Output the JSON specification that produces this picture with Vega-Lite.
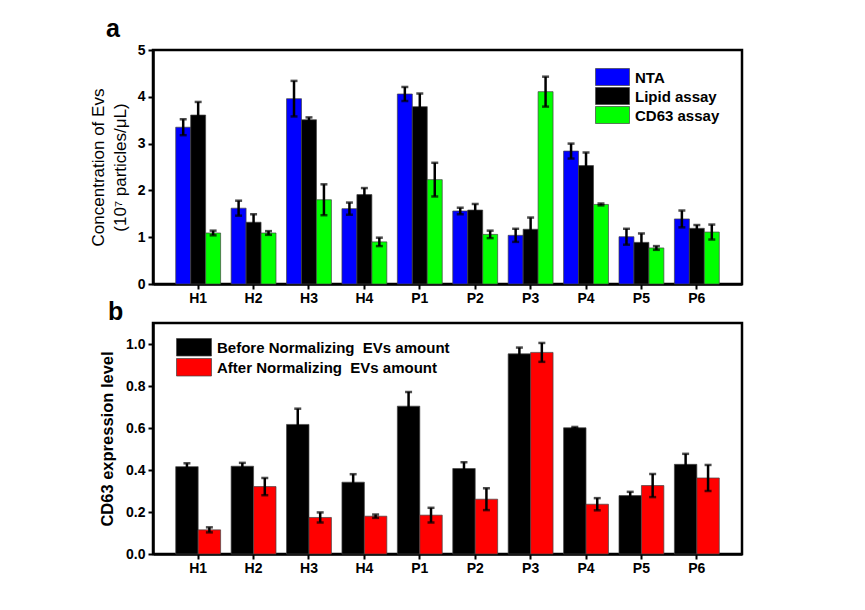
{
  "$schema": "https://vega.github.io/schema/vega-lite/v6.json",
  "background": "white",
  "padding": {"left": 87, "top": 15, "right": 5, "bottom": 5},
  "bounds": "flush",
  "spacing": 39,
  "resolve": {"scale": {"color": "independent", "y": "independent", "x": "independent", "xOffset": "independent"}},
  "config": {
    "view": {"stroke": "black", "strokeWidth": 2.5},
    "font": "Liberation Sans",
    "axis": {
      "domainColor": "black", "domainWidth": 2.5,
      "tickColor": "black", "tickWidth": 2,
      "labelFont": "Liberation Sans", "labelFontWeight": "bold", "labelFontSize": 14, "labelColor": "black",
      "titleFont": "Liberation Sans", "titleColor": "black", "titleFontSize": 16,
      "grid": false
    },
    "legend": {"labelColor": "black", "labelLimit": 0}
  },
  "datasets": {
    "a": [
      {"sample": "H1", "method": "NTA", "value": 3.35, "lo": 3.18, "hi": 3.52},
      {"sample": "H1", "method": "Lipid assay", "value": 3.61, "lo": 3.33, "hi": 3.89},
      {"sample": "H1", "method": "CD63 assay", "value": 1.09, "lo": 1.04, "hi": 1.14},
      {"sample": "H2", "method": "NTA", "value": 1.62, "lo": 1.46, "hi": 1.78},
      {"sample": "H2", "method": "Lipid assay", "value": 1.32, "lo": 1.15, "hi": 1.49},
      {"sample": "H2", "method": "CD63 assay", "value": 1.09, "lo": 1.05, "hi": 1.13},
      {"sample": "H3", "method": "NTA", "value": 3.96, "lo": 3.58, "hi": 4.34},
      {"sample": "H3", "method": "Lipid assay", "value": 3.51, "lo": 3.46, "hi": 3.56},
      {"sample": "H3", "method": "CD63 assay", "value": 1.80, "lo": 1.47, "hi": 2.13},
      {"sample": "H4", "method": "NTA", "value": 1.61, "lo": 1.48, "hi": 1.74},
      {"sample": "H4", "method": "Lipid assay", "value": 1.91, "lo": 1.77, "hi": 2.05},
      {"sample": "H4", "method": "CD63 assay", "value": 0.90, "lo": 0.81, "hi": 0.99},
      {"sample": "P1", "method": "NTA", "value": 4.06, "lo": 3.91, "hi": 4.21},
      {"sample": "P1", "method": "Lipid assay", "value": 3.79, "lo": 3.51, "hi": 4.07},
      {"sample": "P1", "method": "CD63 assay", "value": 2.23, "lo": 1.87, "hi": 2.59},
      {"sample": "P2", "method": "NTA", "value": 1.56, "lo": 1.49, "hi": 1.63},
      {"sample": "P2", "method": "Lipid assay", "value": 1.58, "lo": 1.45, "hi": 1.71},
      {"sample": "P2", "method": "CD63 assay", "value": 1.06, "lo": 0.98, "hi": 1.14},
      {"sample": "P3", "method": "NTA", "value": 1.04, "lo": 0.90, "hi": 1.18},
      {"sample": "P3", "method": "Lipid assay", "value": 1.17, "lo": 0.92, "hi": 1.42},
      {"sample": "P3", "method": "CD63 assay", "value": 4.11, "lo": 3.79, "hi": 4.43},
      {"sample": "P4", "method": "NTA", "value": 2.84, "lo": 2.68, "hi": 3.00},
      {"sample": "P4", "method": "Lipid assay", "value": 2.53, "lo": 2.25, "hi": 2.81},
      {"sample": "P4", "method": "CD63 assay", "value": 1.70, "lo": 1.68, "hi": 1.72},
      {"sample": "P5", "method": "NTA", "value": 1.01, "lo": 0.84, "hi": 1.18},
      {"sample": "P5", "method": "Lipid assay", "value": 0.89, "lo": 0.70, "hi": 1.08},
      {"sample": "P5", "method": "CD63 assay", "value": 0.77, "lo": 0.73, "hi": 0.81},
      {"sample": "P6", "method": "NTA", "value": 1.39, "lo": 1.21, "hi": 1.57},
      {"sample": "P6", "method": "Lipid assay", "value": 1.19, "lo": 1.12, "hi": 1.26},
      {"sample": "P6", "method": "CD63 assay", "value": 1.11, "lo": 0.95, "hi": 1.27}
    ],
    "b": [
      {"sample": "H1", "state": "Before Normalizing\u00a0 EVs amount", "value": 0.416, "lo": 0.400, "hi": 0.432},
      {"sample": "H1", "state": "After Normalizing\u00a0 EVs amount", "value": 0.115, "lo": 0.103, "hi": 0.127},
      {"sample": "H2", "state": "Before Normalizing\u00a0 EVs amount", "value": 0.418, "lo": 0.402, "hi": 0.434},
      {"sample": "H2", "state": "After Normalizing\u00a0 EVs amount", "value": 0.321, "lo": 0.280, "hi": 0.362},
      {"sample": "H3", "state": "Before Normalizing\u00a0 EVs amount", "value": 0.617, "lo": 0.542, "hi": 0.692},
      {"sample": "H3", "state": "After Normalizing\u00a0 EVs amount", "value": 0.174, "lo": 0.150, "hi": 0.198},
      {"sample": "H4", "state": "Before Normalizing\u00a0 EVs amount", "value": 0.342, "lo": 0.304, "hi": 0.380},
      {"sample": "H4", "state": "After Normalizing\u00a0 EVs amount", "value": 0.180, "lo": 0.172, "hi": 0.188},
      {"sample": "P1", "state": "Before Normalizing\u00a0 EVs amount", "value": 0.704, "lo": 0.636, "hi": 0.772},
      {"sample": "P1", "state": "After Normalizing\u00a0 EVs amount", "value": 0.185, "lo": 0.150, "hi": 0.220},
      {"sample": "P2", "state": "Before Normalizing\u00a0 EVs amount", "value": 0.407, "lo": 0.377, "hi": 0.437},
      {"sample": "P2", "state": "After Normalizing\u00a0 EVs amount", "value": 0.261, "lo": 0.209, "hi": 0.313},
      {"sample": "P3", "state": "Before Normalizing\u00a0 EVs amount", "value": 0.953, "lo": 0.923, "hi": 0.983},
      {"sample": "P3", "state": "After Normalizing\u00a0 EVs amount", "value": 0.960, "lo": 0.915, "hi": 1.005},
      {"sample": "P4", "state": "Before Normalizing\u00a0 EVs amount", "value": 0.601, "lo": 0.597, "hi": 0.605},
      {"sample": "P4", "state": "After Normalizing\u00a0 EVs amount", "value": 0.237, "lo": 0.208, "hi": 0.266},
      {"sample": "P5", "state": "Before Normalizing\u00a0 EVs amount", "value": 0.278, "lo": 0.260, "hi": 0.296},
      {"sample": "P5", "state": "After Normalizing\u00a0 EVs amount", "value": 0.326, "lo": 0.271, "hi": 0.381},
      {"sample": "P6", "state": "Before Normalizing\u00a0 EVs amount", "value": 0.427, "lo": 0.377, "hi": 0.477},
      {"sample": "P6", "state": "After Normalizing\u00a0 EVs amount", "value": 0.362, "lo": 0.300, "hi": 0.424}
    ]
  },
  "vconcat": [
    {
      "width": 589,
      "height": 234,
      "title": {"text": "a", "anchor": "start", "frame": "group", "dx": -47, "offset": -19, "baseline": "alphabetic", "fontSize": 25, "fontWeight": "bold", "font": "Liberation Sans", "color": "black"},
      "data": {"name": "a"},
      "encoding": {
        "x": {"field": "sample", "type": "nominal", "sort": null,
              "scale": {"paddingInner": 0.19, "paddingOuter": 0.41},
              "axis": {"title": null, "labelAngle": 0, "tickSize": 5, "labelPadding": 2}},
        "xOffset": {"field": "method", "type": "nominal", "sort": ["NTA", "Lipid assay", "CD63 assay"], "scale": {"paddingInner": 0, "paddingOuter": 0}}
      },
      "layer": [
        {
          "mark": {"type": "bar", "stroke": "#444444", "strokeWidth": 0.7},
          "encoding": {
            "y": {"field": "value", "type": "quantitative",
                  "scale": {"domain": [0, 5], "nice": false},
                  "axis": {"values": [0, 0.5, 1, 1.5, 2, 2.5, 3, 3.5, 4, 4.5, 5], "format": ".0f",
                           "labelExpr": "datum.value % 1 === 0 ? datum.label : ''",
                           "tickSize": {"condition": {"test": "datum.value % 1 !== 0", "value": 2.5}, "value": 5},
                           "labelPadding": 3,
                           "title": ["Concentration of Evs", "(10⁷ particles/μL)"],
                           "titleFontSize": 17,
                           "titleFontWeight": "normal", "titleLineHeight": 22, "titlePadding": 8}},
            "color": {"field": "method", "type": "nominal",
                      "scale": {"domain": ["NTA", "Lipid assay", "CD63 assay"], "range": ["#0000ff", "#000000", "#00ff00"]},
                      "legend": {"orient": "none", "legendX": 442, "legendY": 18, "title": null,
                                 "symbolType": "M-1,-1H1V0H-1Z", "symbolSize": 1156,
                                 "symbolStrokeColor": "#444444", "symbolStrokeWidth": 0.7, "symbolOpacity": 1,
                                 "labelFont": "Liberation Sans", "labelFontSize": 15, "labelFontWeight": "bold",
                                 "labelBaseline": "bottom",
                                 "labelOffset": 5, "rowPadding": -2, "padding": 0}}
          }
        },
        {
          "mark": {"type": "rule", "color": "black", "strokeWidth": 2.5},
          "encoding": {"y": {"field": "lo", "type": "quantitative"}, "y2": {"field": "hi"}}
        },
        {
          "mark": {"type": "tick", "color": "black", "thickness": 2.5, "size": 7},
          "encoding": {"y": {"field": "hi", "type": "quantitative"}}
        },
        {
          "mark": {"type": "tick", "color": "black", "thickness": 2.5, "size": 7},
          "encoding": {"y": {"field": "lo", "type": "quantitative"}}
        }
      ]
    },
    {
      "width": 589,
      "height": 231,
      "title": {"text": "b", "anchor": "start", "frame": "group", "dx": -45, "offset": -22, "baseline": "alphabetic", "fontSize": 25, "fontWeight": "bold", "font": "Liberation Sans", "color": "black"},
      "data": {"name": "b"},
      "encoding": {
        "x": {"field": "sample", "type": "nominal", "sort": null,
              "scale": {"paddingInner": 0.19, "paddingOuter": 0.41},
              "axis": {"title": null, "labelAngle": 0, "tickSize": 5, "labelPadding": 2}},
        "xOffset": {"field": "state", "type": "nominal", "sort": ["Before Normalizing\u00a0 EVs amount", "After Normalizing\u00a0 EVs amount"], "scale": {"paddingInner": 0, "paddingOuter": 0}}
      },
      "layer": [
        {
          "mark": {"type": "bar", "stroke": "#444444", "strokeWidth": 0.7},
          "encoding": {
            "y": {"field": "value", "type": "quantitative",
                  "scale": {"domain": [0, 1.1], "nice": false},
                  "axis": {"values": [0, 0.1, 0.2, 0.3, 0.4, 0.5, 0.6, 0.7, 0.8, 0.9, 1.0], "format": ".1f",
                           "labelExpr": "round(datum.value * 10) % 2 === 0 ? datum.label : ''",
                           "tickSize": {"condition": {"test": "round(datum.value * 10) % 2 === 1", "value": 2.5}, "value": 5},
                           "labelPadding": 3,
                           "title": "CD63 expression level",
                           "titleFontSize": 16.5,
                           "titleFontWeight": "bold", "titlePadding": 10}},
            "color": {"field": "state", "type": "nominal",
                      "scale": {"domain": ["Before Normalizing\u00a0 EVs amount", "After Normalizing\u00a0 EVs amount"], "range": ["#000000", "#ff0000"]},
                      "legend": {"orient": "none", "legendX": 23, "legendY": 15, "title": null,
                                 "symbolType": "M-1,-1H1V0H-1Z", "symbolSize": 1225,
                                 "symbolStrokeColor": "#444444", "symbolStrokeWidth": 0.7, "symbolOpacity": 1,
                                 "labelFont": "Liberation Sans", "labelFontSize": 15, "labelFontWeight": "bold",
                                 "labelBaseline": "bottom",
                                 "labelOffset": 5, "rowPadding": -2.5, "padding": 0}}
          }
        },
        {
          "mark": {"type": "rule", "color": "black", "strokeWidth": 2.5},
          "encoding": {"y": {"field": "lo", "type": "quantitative"}, "y2": {"field": "hi"}}
        },
        {
          "mark": {"type": "tick", "color": "black", "thickness": 2.5, "size": 7},
          "encoding": {"y": {"field": "hi", "type": "quantitative"}}
        },
        {
          "mark": {"type": "tick", "color": "black", "thickness": 2.5, "size": 7},
          "encoding": {"y": {"field": "lo", "type": "quantitative"}}
        }
      ]
    }
  ]
}
